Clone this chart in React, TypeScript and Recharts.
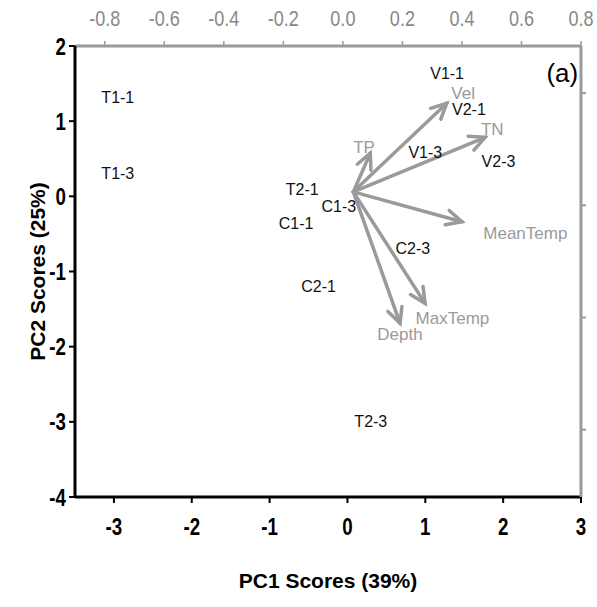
import React from 'react';
import {
  ScatterChart,
  Scatter,
  XAxis,
  YAxis,
  ReferenceLine,
  ReferenceDot,
  Label,
} from 'recharts';

// Sample scores (PC1, PC2)
const sampleNames = ['T1-1', 'T1-3', 'V1-1', 'V2-1', 'V1-3', 'V2-3', 'T2-1', 'C1-3', 'C1-1', 'C2-3', 'C2-1', 'T2-3'];
const pc1Scores = [-2.95, -2.95, 1.28, 1.56, 1.0, 1.94, -0.58, -0.11, -0.66, 0.84, -0.37, 0.3];
const pc2Scores = [1.31, 0.3, 1.63, 1.15, 0.58, 0.46, 0.09, -0.14, -0.36, -0.69, -1.2, -3.0];

// Variable loadings (top / right axes)
const varNames = ['Vel', 'TN', 'TP', 'MeanTemp', 'MaxTemp', 'Depth'];
const loadX = [0.349, 0.478, 0.092, 0.4, 0.276, 0.192];
const loadY = [0.455, 0.303, 0.232, -0.073, -0.437, -0.526];
const varLabelX = [0.404, 0.502, 0.071, 0.613, 0.368, 0.192];
const varLabelY = [0.5, 0.34, 0.258, -0.126, -0.504, -0.578];
const loadOrigin = { x: 0.035, y: 0.06 };

// Axis ticks
const pc1Ticks = [-3, -2, -1, 0, 1, 2, 3];
const pc2Ticks = [2, 1, 0, -1, -2, -3, -4];
const loadXTicks = [-0.8, -0.6, -0.4, -0.2, 0, 0.2, 0.4, 0.6, 0.8];
const loadYTicks = [0.5, 0, -0.5, -1];

const sampleData = sampleNames.map((name, i) => ({ name, x: pc1Scores[i], y: pc2Scores[i] }));
const varData = varNames.map((name, i) => ({ name, x: varLabelX[i], y: varLabelY[i] }));

const GRAY = '#9a9a9a';
const SANS = 'Liberation Sans, Arial, sans-serif';

const SampleLabel = (props: any) => {
  const { cx, cy, payload } = props;
  return (
    <text x={cx} y={cy} textAnchor="middle" dominantBaseline="central" fontFamily={SANS} fontSize={16} fill="#111">
      {payload.name}
    </text>
  );
};

const VarLabel = (props: any) => {
  const { cx, cy, payload } = props;
  return (
    <text x={cx} y={cy} textAnchor="middle" dominantBaseline="central" fontFamily={SANS} fontSize={17} fill={GRAY}>
      {payload.name}
    </text>
  );
};

// Condensed tick label (tall, narrow digits as in the original)
const makeTick = (opts: { anchor: string; fill: string; bold: boolean; size: number; sx: number; fmt?: (v: number) => string; dy: number }) =>
  (props: any) => {
    const { x, y, payload } = props;
    const txt = opts.fmt ? opts.fmt(payload.value) : String(payload.value);
    return (
      <g transform={`translate(${x},${y}) scale(${opts.sx},1)`}>
        <text
          x={0}
          y={0}
          dy={opts.dy}
          textAnchor={opts.anchor}
          fontFamily={SANS}
          fontWeight={opts.bold ? 'bold' : 'normal'}
          fontSize={opts.size}
          fill={opts.fill}
        >
          {txt}
        </text>
      </g>
    );
  };

const BottomTick = makeTick({ anchor: 'middle', fill: '#000', bold: true, size: 24, sx: 0.78, dy: 16 });
const LeftTick = makeTick({ anchor: 'end', fill: '#000', bold: true, size: 24, sx: 0.78, dy: 8.5 });
const TopTick = makeTick({ anchor: 'middle', fill: '#888', bold: false, size: 22, sx: 0.82, fmt: (v) => v.toFixed(1), dy: 0 });
// Right axis: tick marks only, labels fall outside the picture in the original
const EmptyTick = () => <g />;

const Arrow = (props: any) => {
  const { x1, y1, x2, y2 } = props;
  const th = Math.atan2(y2 - y1, x2 - x1);
  const L = 17;
  const a = (26 * Math.PI) / 180;
  const p1 = [x2 - L * Math.cos(th - a), y2 - L * Math.sin(th - a)];
  const p2 = [x2 - L * Math.cos(th + a), y2 - L * Math.sin(th + a)];
  return (
    <g>
      <line x1={x1} y1={y1} x2={x2} y2={y2} stroke={GRAY} strokeWidth={3.5} strokeLinecap="round" />
      <polyline
        points={`${p1[0]},${p1[1]} ${x2},${y2} ${p2[0]},${p2[1]}`}
        fill="none"
        stroke={GRAY}
        strokeWidth={3.5}
        strokeLinecap="round"
      />
    </g>
  );
};

export default function App() {
  return (
    <div style={{ position: 'fixed', left: 8, top: 0, width: 589, height: 599, background: '#fff' }}>
      <ScatterChart width={589} height={599} margin={{ top: 8, right: 0, bottom: 0, left: 0 }}>
        <XAxis
          xAxisId="bottom"
          type="number"
          dataKey="x"
          domain={[-3.5, 3]}
          ticks={pc1Ticks}
          height={102}
          axisLine={{ stroke: '#000', strokeWidth: 3 }}
          tickLine={{ stroke: '#000', strokeWidth: 2 }}
          tickSize={6}
          tickMargin={16}
          tick={BottomTick}
          allowDataOverflow
        >
          <Label
            value="PC1 Scores (39%)"
            position="insideBottom"
            offset={11}
            style={{ fontFamily: SANS, fontWeight: 'bold', fontSize: 21, fill: '#000' }}
          />
        </XAxis>
        <XAxis
          xAxisId="top"
          orientation="top"
          type="number"
          dataKey="x"
          domain={[-0.9, 0.8]}
          ticks={loadXTicks}
          height={38}
          axisLine={{ stroke: GRAY, strokeWidth: 3 }}
          tickLine={{ stroke: GRAY, strokeWidth: 1.5 }}
          tickSize={5}
          tickMargin={15}
          tick={TopTick}
          allowDataOverflow
        />
        <YAxis
          yAxisId="left"
          type="number"
          dataKey="y"
          domain={[-4, 2]}
          ticks={pc2Ticks}
          width={67}
          axisLine={{ stroke: '#000', strokeWidth: 3 }}
          tickLine={{ stroke: '#000', strokeWidth: 2 }}
          tickSize={6}
          tickMargin={3}
          tick={LeftTick}
          allowDataOverflow
        >
          <Label
            value="PC2 Scores (25%)"
            angle={-90}
            position="insideLeft"
            offset={30}
            style={{ textAnchor: 'middle', fontFamily: SANS, fontWeight: 'bold', fontSize: 21, fill: '#000' }}
          />
        </YAxis>
        <YAxis
          yAxisId="right"
          orientation="right"
          type="number"
          dataKey="y"
          domain={[-1.3, 0.71]}
          ticks={loadYTicks}
          width={16}
          axisLine={{ stroke: GRAY, strokeWidth: 3 }}
          tickLine={{ stroke: GRAY, strokeWidth: 2 }}
          tickSize={5}
          tick={EmptyTick}
          allowDataOverflow
        />
        {varNames.map((name, i) => (
          <ReferenceLine
            key={name}
            xAxisId="top"
            yAxisId="right"
            segment={[
              { x: loadOrigin.x, y: loadOrigin.y },
              { x: loadX[i], y: loadY[i] },
            ]}
            shape={Arrow}
            ifOverflow="visible"
          />
        ))}
        <Scatter
          data={varData}
          xAxisId="top"
          yAxisId="right"
          shape={VarLabel}
          isAnimationActive={false}
        />
        <Scatter
          data={sampleData}
          xAxisId="bottom"
          yAxisId="left"
          shape={SampleLabel}
          isAnimationActive={false}
        />
        <ReferenceDot
          xAxisId="bottom"
          yAxisId="left"
          x={2.76}
          y={1.65}
          r={0}
          fill="none"
          stroke="none"
          ifOverflow="visible"
        >
          <Label
            value="(a)"
            position="center"
            style={{ fontFamily: SANS, fontSize: 26, fill: '#000' }}
          />
        </ReferenceDot>
      </ScatterChart>
    </div>
  );
}
